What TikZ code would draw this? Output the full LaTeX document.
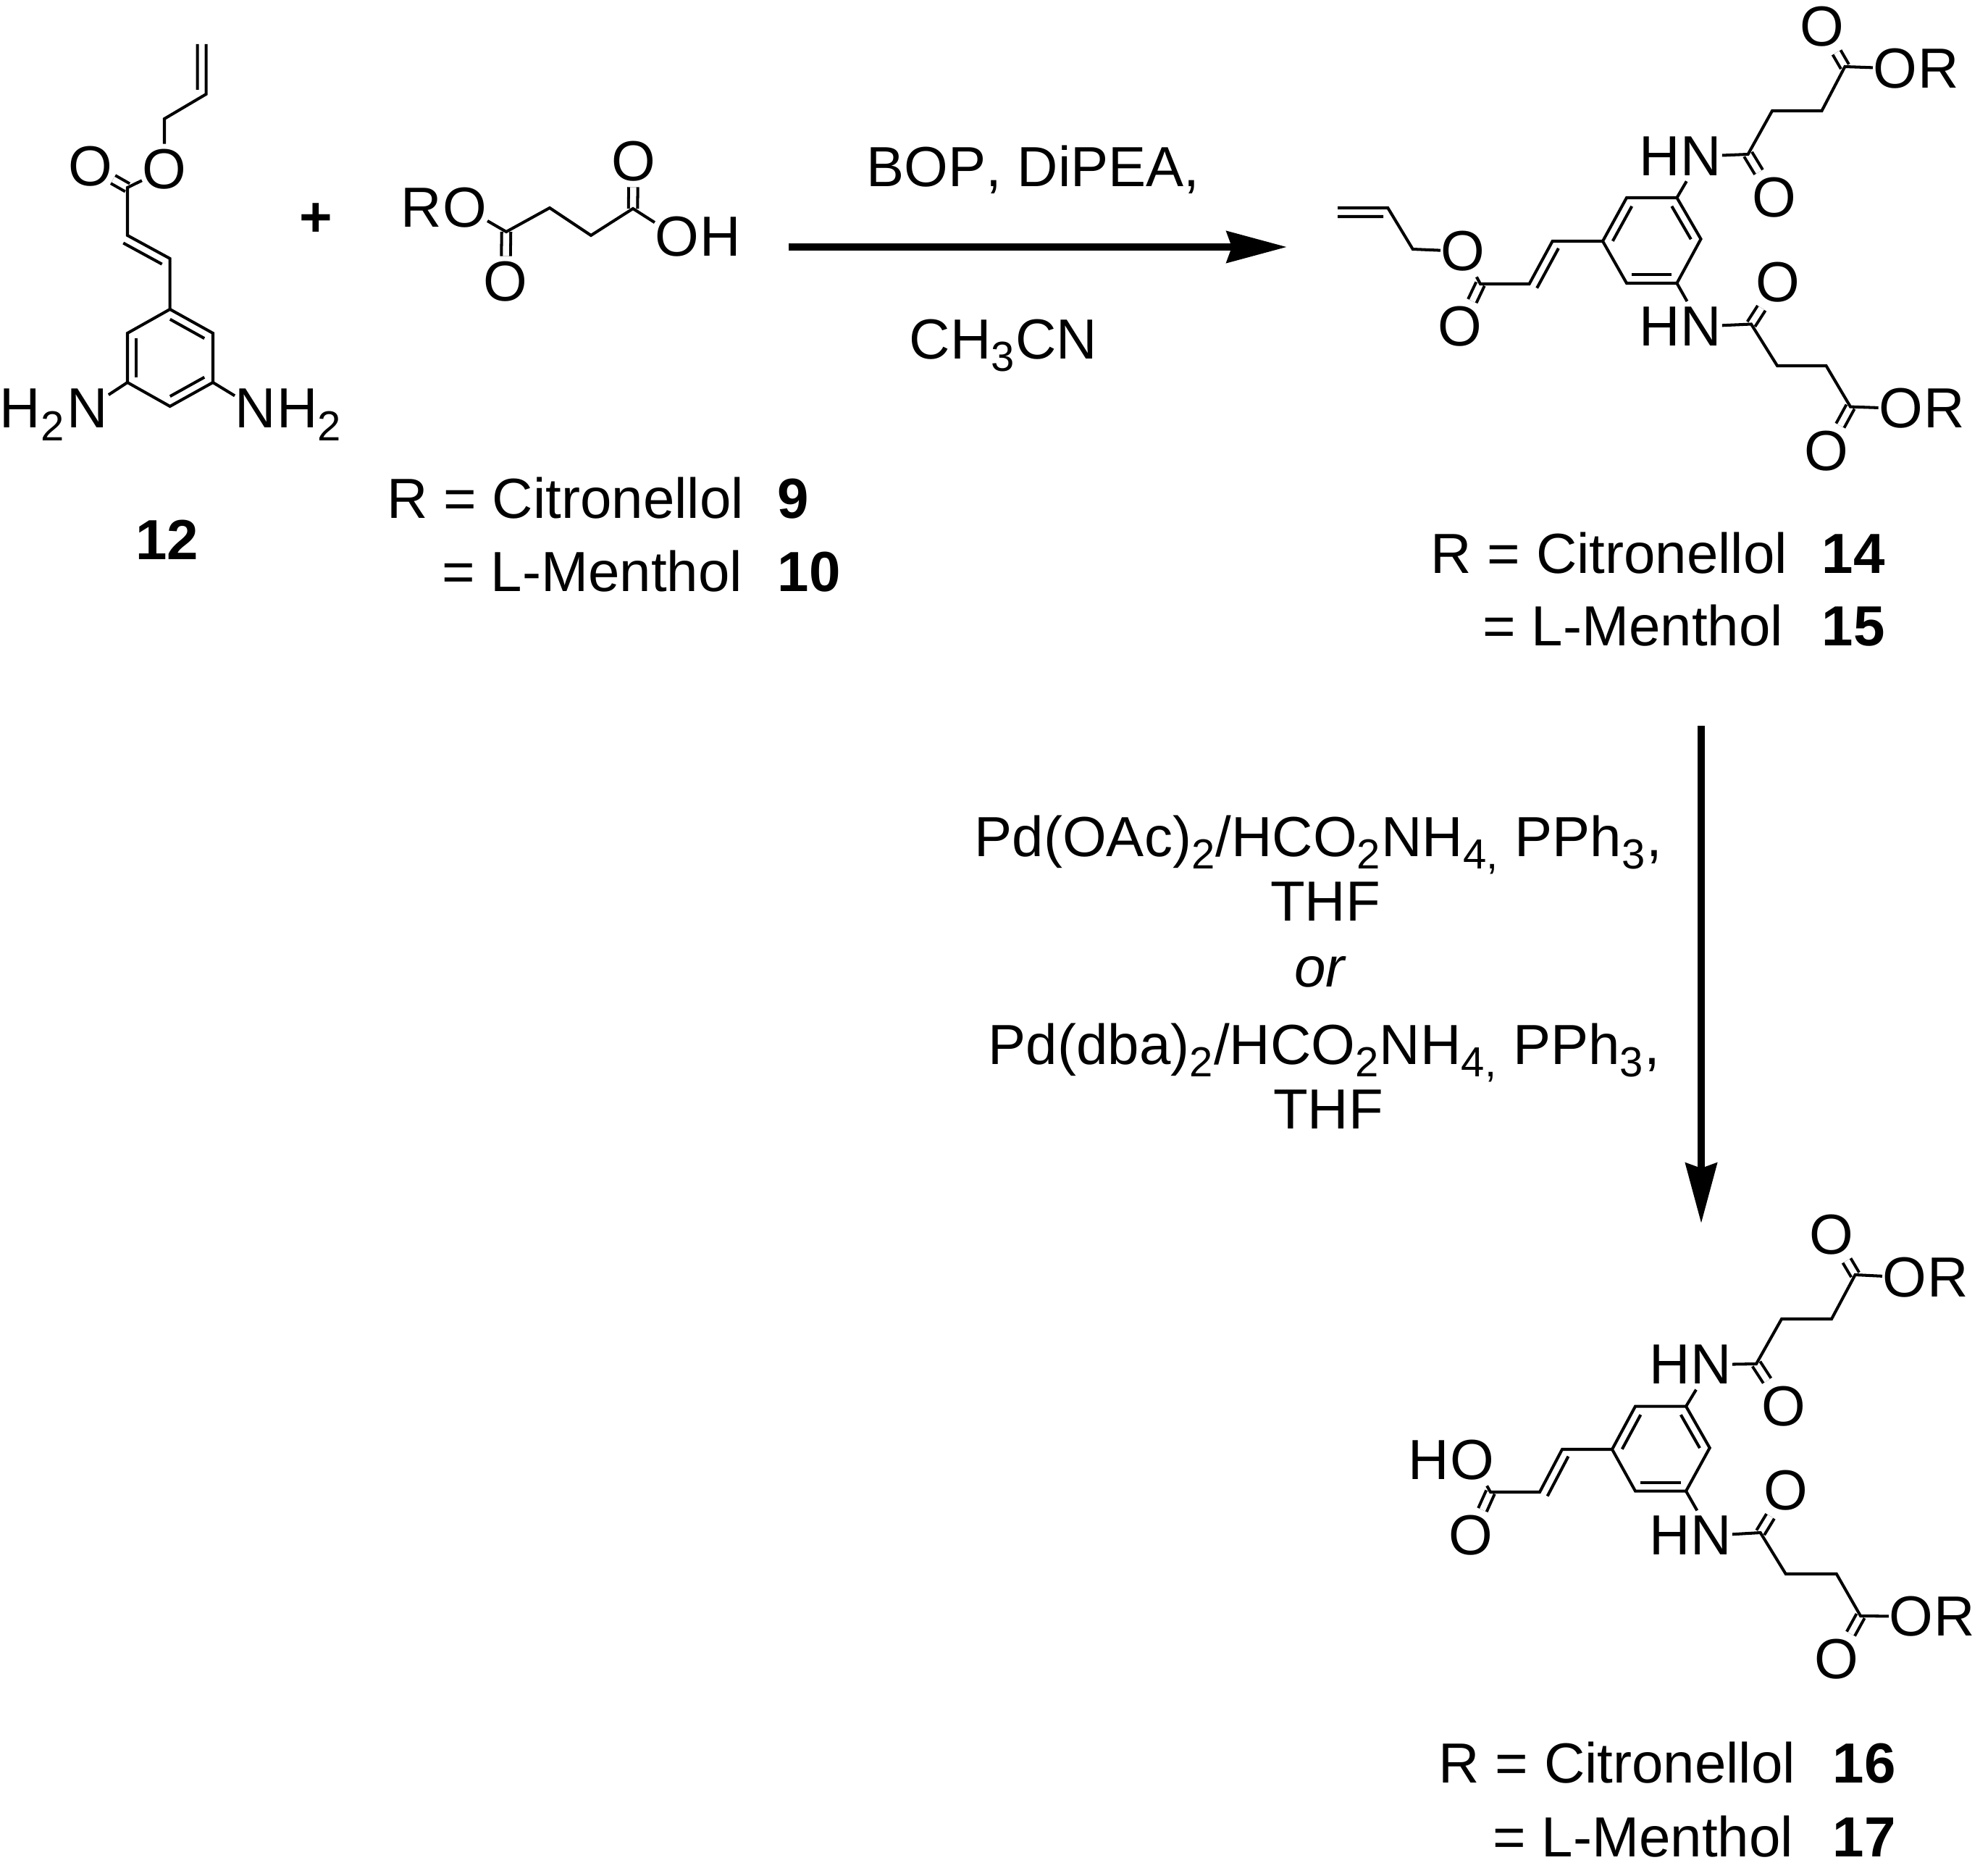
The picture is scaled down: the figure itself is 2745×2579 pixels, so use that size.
\documentclass[tikz,border=0pt]{standalone}
\usepackage{fontspec}
\setmainfont{Liberation Sans}[Kerning=Off]
\usetikzlibrary{arrows.meta,calc,positioning}
\newcommand{\sbs}[1]{\raisebox{-.22em}{\fontsize{16.5}{18}\selectfont #1}\kern.4pt\relax}
% second line of a double bond, on the right hand side of #1 -> #2
\newcommand{\innerbond}[4]{\draw[bond] ($(#1)!#3!(#2)!0.12cm!-90:(#2)$) -- ($(#2)!#4!(#1)!0.12cm!90:(#1)$);}
\tikzset{
    txt/.style={font=\fontsize{22.2}{26}\selectfont,inner sep=0pt,anchor=base west},
    num/.style={txt,font=\fontsize{22.2}{26}\selectfont\bfseries},
    atom/.style={font=\fontsize{22.2}{26}\selectfont,inner xsep=0pt,inner ysep=2pt},
    tail/.style={font=\fontsize{22.2}{26}\selectfont,inner sep=0pt},
    bond/.style={line width=1.15pt,line join=miter},
    dbond/.style={bond,double,double distance=2.4pt},
    rxnarrow/.style={line width=0.1cm,-{Stealth[length=0.83cm,width=0.43cm,inset=0.07cm]}}
}
\begin{document}
\begin{tikzpicture}[x=0.01cm,y=-0.01cm,node distance=0pt]
    \useasboundingbox (0,0) rectangle (2745,2579);
    % 12
    \coordinate (a1) at (284.6,61); \coordinate (a2) at (284.6,130); \coordinate (a3) at (227,164);
    \coordinate (a4) at (176,259); \coordinate (a5) at (176,325); \coordinate (a6) at (234.7,357);
    \coordinate (ar1) at (234.7,427); \coordinate (ar2) at (294,460); \coordinate (ar3) at (294,528);
    \coordinate (ar4) at (234.7,561); \coordinate (ar5) at (176,528); \coordinate (ar6) at (176,460);
    \node[atom] (ao1) at (227,234) {O};
    \node[atom] (ao2) at (125,230) {O};
    \node[atom] (an1) at (121,564) {N};
    \node[tail,base left=0.4pt of an1] (ah1) {H\sbs{2}};
    \node[atom] (an2) at (353,564) {N};
    \node[tail,base right=of an2] (ah2) {H\sbs{2}};
    \draw[dbond] (a4) -- (ao2);
    \draw[bond] (a1) -- (a2) -- (a3) -- (ao1);
    \draw[bond] (ao1) -- (a4) -- (a5) -- (a6) -- (ar1);
    \draw[bond] (ar1) -- (ar2) -- (ar3) -- (ar4) -- (ar5) -- (ar6) -- cycle;
    \draw[bond] (ar5) -- (an1);
    \draw[bond] (ar3) -- (an2);
    \innerbond{a1}{a2}{0}{.09}
    \innerbond{a5}{a6}{0}{.09}
    \innerbond{ar1}{ar2}{.1}{.1}
    \innerbond{ar3}{ar4}{.1}{.1}
    \innerbond{ar5}{ar6}{.1}{.1}
    \node[num,anchor=base] (lab12) at (231,772) {12};
    \node[num,anchor=center] (plus) at (436,304) {+};
    % 9, 10
    \coordinate (b1) at (699,320); \coordinate (b2) at (759,287); \coordinate (b3) at (816,325); \coordinate (b4) at (874,288);
    \node[atom] (bo1) at (642,287) {O};
    \node[tail,base left=of bo1] (br1) {R};
    \node[atom] (bo2) at (698,389) {O};
    \node[atom] (bo3) at (875,223) {O};
    \node[atom] (bo4) at (935,327) {O};
    \node[tail,base right=of bo4] (bh1) {H};
    \draw[dbond] (b1) -- (bo2);
    \draw[dbond] (b4) -- (bo3);
    \draw[bond] (bo1) -- (b1) -- (b2) -- (b3) -- (b4) -- (bo4);
    \node[txt] (lab9a) at (534,715) {R = Citronellol};
    \node[num] (lab9) at (1073,715) {9};
    \node[txt] (lab10a) at (610,816) {= L-Menthol};
    \node[num] (lab10) at (1073,816) {10};
    % first arrow
    \coordinate (arr1s) at (1089,341); \coordinate (arr1e) at (1777,341);
    \draw[rxnarrow] (arr1s) -- (arr1e);
    \node[txt] (bop) at (1196,258) {BOP, DiPEA,};
    \node[txt] (mecn) at (1255,495) {CH\sbs{3}CN};
    % 14, 15
    \coordinate (c1) at (1847,287); \coordinate (c2) at (1916.3,287); \coordinate (c3) at (1950.7,344);
    \coordinate (c4) at (2044,392); \coordinate (c5) at (2111.6,392); \coordinate (c6) at (2143.6,333);
    \coordinate (cr1) at (2213,333); \coordinate (cr2) at (2246,273); \coordinate (cr3) at (2315.4,273);
    \coordinate (cr4) at (2348.5,330); \coordinate (cr5) at (2315.4,391); \coordinate (cr6) at (2246,391);
    \coordinate (c7) at (2413.6,213); \coordinate (c8) at (2447,153); \coordinate (c9) at (2515.5,153); \coordinate (c10) at (2547.4,92);
    \coordinate (c11) at (2418,447.5); \coordinate (c12) at (2454,505); \coordinate (c13) at (2521.5,505); \coordinate (c14) at (2555,561.6);
    \node[atom] (co1) at (2020,347) {O};
    \node[atom] (co2) at (2016,451) {O};
    \node[atom] (cn1) at (2349,215.7) {N};
    \node[tail,base left=of cn1] (chn1) {H};
    \node[atom] (co3) at (2450,273) {O};
    \node[atom] (co4) at (2515.5,37) {O};
    \node[atom] (co5) at (2617,94.5) {O};
    \node[tail,base right=of co5] (cor1) {R};
    \node[atom] (cn2) at (2349,450.6) {N};
    \node[tail,base left=of cn2] (chn2) {H};
    \node[atom] (co6) at (2455,390) {O};
    \node[atom] (co7) at (2521.5,623) {O};
    \node[atom] (co8) at (2624.6,564) {O};
    \node[tail,base right=of co8] (cor2) {R};
    \draw[dbond] (c4) -- (co2);
    \draw[dbond] (c7) -- (co3);
    \draw[dbond] (c10) -- (co4);
    \draw[dbond] (c11) -- (co6);
    \draw[dbond] (c14) -- (co7);
    \draw[bond] (c1) -- (c2) -- (c3) -- (co1);
    \draw[bond] (co1) -- (c4) -- (c5) -- (c6) -- (cr1);
    \draw[bond] (cr1) -- (cr2) -- (cr3) -- (cr4) -- (cr5) -- (cr6) -- cycle;
    \draw[bond] (cr3) -- (cn1);
    \draw[bond] (cn1) -- (c7) -- (c8) -- (c9) -- (c10) -- (co5);
    \draw[bond] (cr5) -- (cn2);
    \draw[bond] (cn2) -- (c11) -- (c12) -- (c13) -- (c14) -- (co8);
    \innerbond{c1}{c2}{0}{.09}
    \innerbond{c5}{c6}{0}{.07}
    \innerbond{cr1}{cr2}{.1}{.1}
    \innerbond{cr3}{cr4}{.1}{.1}
    \innerbond{cr5}{cr6}{.1}{.1}
    \node[txt] (lab14a) at (1975,791) {R = Citronellol};
    \node[num] (lab14) at (2515,791) {14};
    \node[txt] (lab15a) at (2047,891) {= L-Menthol};
    \node[num] (lab15) at (2515,891) {15};
    % second arrow
    \coordinate (arr2s) at (2349,1002); \coordinate (arr2e) at (2349,1689);
    \draw[rxnarrow] (arr2s) -- (arr2e);
    \node[txt] (pda) at (1345,1182) {Pd(OAc)\sbs{2}/HCO\sbs{2}NH\sbs{4,} PPh\sbs{3},};
    \node[txt,anchor=base] (thfa) at (1830,1271) {THF};
    \node[txt,anchor=base,font=\fontsize{22.2}{26}\selectfont\itshape] (alt) at (1822,1362) {or};
    \node[txt] (pdb) at (1364,1469) {Pd(dba)\sbs{2}/HCO\sbs{2}NH\sbs{4,} PPh\sbs{3},};
    \node[txt,anchor=base] (thfb) at (1834,1558) {THF};
    % 16, 17
    \coordinate (d4) at (2058,2060); \coordinate (d5) at (2126,2060); \coordinate (d6) at (2157,2001);
    \coordinate (dr1) at (2226,2001); \coordinate (dr2) at (2258,1941.6); \coordinate (dr3) at (2328,1941.6);
    \coordinate (dr4) at (2360.7,1999); \coordinate (dr5) at (2328,2058.6); \coordinate (dr6) at (2258,2058.6);
    \coordinate (d7) at (2425,1883); \coordinate (d8) at (2460,1821); \coordinate (d9) at (2529,1821); \coordinate (d10) at (2561.6,1760);
    \coordinate (d11) at (2430.7,2116); \coordinate (d12) at (2465.7,2173); \coordinate (d13) at (2535.8,2173); \coordinate (d14) at (2569,2231);
    \node[atom] (do1) at (2033,2016) {O};
    \node[tail,base left=of do1] (dh1) {H};
    \node[atom] (do2) at (2031,2120) {O};
    \node[atom] (dn1) at (2363,1884) {N};
    \node[tail,base left=of dn1] (dhn1) {H};
    \node[atom] (do3) at (2463,1941.6) {O};
    \node[atom] (do4) at (2529,1705) {O};
    \node[atom] (do5) at (2630,1763.4) {O};
    \node[tail,base right=of do5] (dor1) {R};
    \node[atom] (dn2) at (2363,2120) {N};
    \node[tail,base left=of dn2] (dhn2) {H};
    \node[atom] (do6) at (2466,2058) {O};
    \node[atom] (do7) at (2536,2291) {O};
    \node[atom] (do8) at (2639,2231.7) {O};
    \node[tail,base right=of do8] (dor2) {R};
    \draw[dbond] (d4) -- (do2);
    \draw[dbond] (d7) -- (do3);
    \draw[dbond] (d10) -- (do4);
    \draw[dbond] (d11) -- (do6);
    \draw[dbond] (d14) -- (do7);
    \draw[bond] (do1) -- (d4) -- (d5) -- (d6) -- (dr1);
    \draw[bond] (dr1) -- (dr2) -- (dr3) -- (dr4) -- (dr5) -- (dr6) -- cycle;
    \draw[bond] (dr3) -- (dn1);
    \draw[bond] (dn1) -- (d7) -- (d8) -- (d9) -- (d10) -- (do5);
    \draw[bond] (dr5) -- (dn2);
    \draw[bond] (dn2) -- (d11) -- (d12) -- (d13) -- (d14) -- (do8);
    \innerbond{d5}{d6}{0}{.07}
    \innerbond{dr1}{dr2}{.1}{.1}
    \innerbond{dr3}{dr4}{.1}{.1}
    \innerbond{dr5}{dr6}{.1}{.1}
    \node[txt] (lab16a) at (1986,2461) {R = Citronellol};
    \node[num] (lab16) at (2530,2461) {16};
    \node[txt] (lab17a) at (2061,2563) {= L-Menthol};
    \node[num] (lab17) at (2530,2563) {17};
\end{tikzpicture}
\end{document}
